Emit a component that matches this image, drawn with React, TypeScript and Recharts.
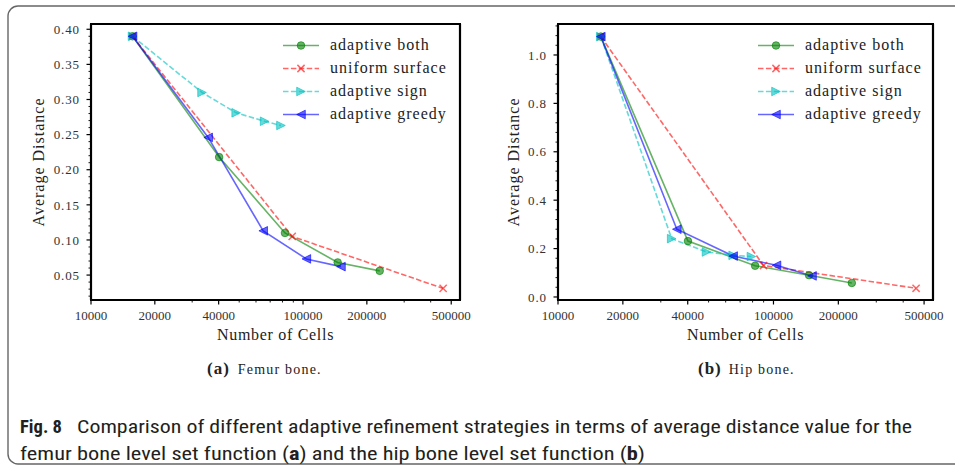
import React from "react";
import { LineChart, Line, XAxis, YAxis } from "recharts";

const seriesNames = ["adaptive both", "uniform surface", "adaptive sign", "adaptive greedy"];

// (a) femur bone
const femurBothCells = [15700, 40200, 82200, 145700, 230000];
const femurBothDist = [0.39, 0.218, 0.11, 0.068, 0.056];
const femurUniformCells = [15700, 88900, 458000];
const femurUniformDist = [0.39, 0.105, 0.031];
const femurSignCells = [15700, 33400, 48400, 65900, 78700];
const femurSignDist = [0.39, 0.31, 0.281, 0.269, 0.263];
const femurGreedyCells = [15700, 35700, 64900, 103700, 151000];
const femurGreedyDist = [0.39, 0.246, 0.113, 0.073, 0.062];

// (b) hip bone
const hipBothCells = [15800, 40100, 82200, 146300, 231000];
const hipBothDist = [1.076, 0.231, 0.129, 0.09, 0.058];
const hipUniformCells = [15800, 89900, 459000];
const hipUniformDist = [1.076, 0.13, 0.036];
const hipSignCells = [15800, 33700, 48900, 65000, 79000];
const hipSignDist = [1.076, 0.241, 0.186, 0.172, 0.167];
const hipGreedyCells = [15800, 35600, 65000, 103300, 151000];
const hipGreedyDist = [1.076, 0.28, 0.169, 0.131, 0.087];

const xMajorTicks = [10000, 20000, 40000, 100000, 200000, 500000];
const xMinorTicks = [30000, 50000, 60000, 70000, 80000, 90000, 300000, 400000];
const femurMajorTicks = [0.05, 0.1, 0.15, 0.2, 0.25, 0.3, 0.35, 0.4];
const femurMinorTicks = [
  0.02, 0.03, 0.04, 0.06, 0.07, 0.08, 0.09, 0.11, 0.12, 0.13, 0.14, 0.16, 0.17, 0.18, 0.19,
  0.21, 0.22, 0.23, 0.24, 0.26, 0.27, 0.28, 0.29, 0.31, 0.32, 0.33, 0.34, 0.36, 0.37, 0.38, 0.39,
];
const hipMajorTicks = [0, 0.2, 0.4, 0.6, 0.8, 1.0];
const hipMinorTicks = [0.04, 0.08, 0.12, 0.16, 0.24, 0.28, 0.32, 0.36, 0.44, 0.48, 0.52, 0.56, 0.64, 0.68, 0.72, 0.76, 0.84, 0.88, 0.92, 0.96, 1.04, 1.08, 1.12];

const xDomain = [10000, 550000];
const femurDomain = [0.0145, 0.4075];
const hipDomain = [-0.0125, 1.128];

const looks = [
  { color: "#008000", dash: undefined, marker: "circle" },
  { color: "#ff0000", dash: "5.5 2.4", marker: "x" },
  { color: "#00bfbf", dash: "5.5 2.4", marker: "triRight" },
  { color: "#0000ff", dash: undefined, marker: "triLeft" },
];

const serif = '"Liberation Serif", serif';
const condensed = '"Roboto Condensed", "Liberation Sans", sans-serif';
const frameLine = { stroke: "#000", strokeWidth: 2.2 };

function Marker({ kind, cx, cy, color }: { kind: string; cx: number; cy: number; color: string }) {
  const r = 4.3;
  const common = { fill: color, fillOpacity: 0.6, stroke: color, strokeOpacity: 0.6, strokeWidth: 1 };
  if (kind === "circle") return <circle cx={cx} cy={cy} r={3.8} {...common} />;
  if (kind === "x")
    return (
      <path
        d={`M${cx - 3.6},${cy - 3.6}L${cx + 3.6},${cy + 3.6}M${cx - 3.6},${cy + 3.6}L${cx + 3.6},${cy - 3.6}`}
        stroke={color}
        strokeOpacity={0.6}
        strokeWidth={1.5}
      />
    );
  if (kind === "triRight")
    return <polygon points={`${cx + r},${cy} ${cx - r},${cy - r} ${cx - r},${cy + r}`} {...common} />;
  return <polygon points={`${cx - r},${cy} ${cx + r},${cy - r} ${cx + r},${cy + r}`} {...common} />;
}

const XTick = (props: any) => {
  const { x, y, payload } = props;
  const major = xMajorTicks.includes(payload.value);
  return (
    <g>
      <line x1={x} x2={x} y1={y} y2={y + (major ? 4.5 : 2.5)} stroke="#000" strokeWidth={major ? 1.2 : 0.9} />
      {major && (
        <text x={x} y={y + 19.5} textAnchor="middle" style={{ fontFamily: serif }} fontSize={13} fill="#333">
          {payload.value}
        </text>
      )}
    </g>
  );
};

const makeYTick = (majors: number[], digits: number) => (props: any) => {
  const { x, y, payload } = props;
  const major = majors.some((m) => Math.abs(m - payload.value) < 1e-9);
  return (
    <g>
      <line x1={x} x2={x - (major ? 4.5 : 2.5)} y1={y} y2={y} stroke="#000" strokeWidth={major ? 1.2 : 0.9} />
      {major && (
        <text x={x - 11} y={y} dy="0.36em" textAnchor="end" style={{ fontFamily: serif, letterSpacing: 0.9 }} fontSize={13} fill="#333">
          {payload.value.toFixed(digits)}
        </text>
      )}
    </g>
  );
};

const FemurYTick = makeYTick(femurMajorTicks, 2);
const HipYTick = makeYTick(hipMajorTicks, 1);

type Panel = {
  cells: number[][];
  dists: number[][];
  yDomain: number[];
  yTicks: number[];
  YTick: (p: any) => React.ReactElement;
  left: number;
  width: number;
  margin: { top: number; right: number; bottom: number; left: number };
  labelOffset: number;
};

const chartHeight = 345;
const xAxisHeight = 44;
const yAxisWidth = 60;

function DistanceChart({ p }: { p: Panel }) {
  return (
    <div style={{ position: "absolute", left: p.left, top: 0, width: p.width, height: chartHeight }}>
      <LineChart width={p.width} height={chartHeight} margin={p.margin}>
        <XAxis
          dataKey="cells"
          type="number"
          scale="log"
          domain={xDomain}
          allowDataOverflow
          ticks={[...xMajorTicks, ...xMinorTicks].sort((a, b) => a - b)}
          interval={0}
          tick={<XTick />}
          tickLine={false}
          axisLine={frameLine}
          tickSize={0}
          tickMargin={0}
          height={xAxisHeight}
          label={{
            value: "Number of Cells",
            position: "insideBottom",
            offset: 4,
            style: { fontFamily: serif, fontSize: 16, letterSpacing: 0.7, fill: "#222" },
          }}
        />
        <XAxis
          xAxisId="top"
          orientation="top"
          dataKey="cells"
          type="number"
          scale="log"
          domain={xDomain}
          allowDataOverflow
          tick={false}
          tickLine={false}
          axisLine={frameLine}
          height={1}
        />
        <YAxis
          type="number"
          domain={p.yDomain}
          allowDataOverflow
          ticks={p.yTicks}
          interval={0}
          tick={<p.YTick />}
          tickLine={false}
          axisLine={frameLine}
          tickSize={0}
          tickMargin={0}
          width={yAxisWidth}
          label={{
            value: "Average Distance",
            angle: -90,
            position: "insideLeft",
            offset: p.labelOffset,
            style: { textAnchor: "middle", fontFamily: serif, fontSize: 16, letterSpacing: 1, fill: "#222" },
          }}
        />
        <YAxis
          yAxisId="right"
          orientation="right"
          type="number"
          domain={p.yDomain}
          allowDataOverflow
          tick={false}
          tickLine={false}
          axisLine={frameLine}
          width={1}
        />
        {seriesNames.map((name, i) => (
          <Line
            key={name}
            name={name}
            data={p.cells[i].map((c, j) => ({ cells: c, dist: p.dists[i][j] }))}
            dataKey="dist"
            type="linear"
            stroke={looks[i].color}
            strokeOpacity={0.6}
            strokeWidth={1.6}
            strokeDasharray={looks[i].dash}
            isAnimationActive={false}
            dot={(d: any) => (
              <Marker key={`${name}-${d.index}`} kind={looks[i].marker} cx={d.cx} cy={d.cy} color={looks[i].color} />
            )}
            activeDot={false}
          />
        ))}
      </LineChart>
    </div>
  );
}

function LegendBox({ left }: { left: number }) {
  return (
    <div style={{ position: "absolute", left, top: 33.5 }}>
      {seriesNames.map((name, i) => (
        <div key={name} style={{ display: "flex", alignItems: "center", height: 23 }}>
          <svg width={36} height={23}>
            <line
              x1={0}
              x2={36}
              y1={11.5}
              y2={11.5}
              stroke={looks[i].color}
              strokeOpacity={0.6}
              strokeWidth={1.6}
              strokeDasharray={looks[i].dash}
            />
            <Marker kind={looks[i].marker} cx={18} cy={11.5} color={looks[i].color} />
          </svg>
          <span style={{ marginLeft: 11, fontFamily: serif, fontSize: 16, letterSpacing: 1, color: "#222", whiteSpace: "nowrap" }}>
            {name}
          </span>
        </div>
      ))}
    </div>
  );
}

const femurPanel: Panel = {
  cells: [femurBothCells, femurUniformCells, femurSignCells, femurGreedyCells],
  dists: [femurBothDist, femurUniformDist, femurSignDist, femurGreedyDist],
  yDomain: femurDomain,
  yTicks: [...femurMajorTicks, ...femurMinorTicks].sort((a, b) => a - b),
  YTick: FemurYTick,
  left: 0,
  width: 480,
  margin: { top: 23, right: 19, bottom: 1, left: 31 },
  labelOffset: 7,
};

const hipPanel: Panel = {
  cells: [hipBothCells, hipUniformCells, hipSignCells, hipGreedyCells],
  dists: [hipBothDist, hipUniformDist, hipSignDist, hipGreedyDist],
  yDomain: hipDomain,
  yTicks: [...hipMajorTicks, ...hipMinorTicks].sort((a, b) => a - b),
  YTick: HipYTick,
  left: 480,
  width: 475,
  margin: { top: 23, right: 21, bottom: 1, left: 18 },
  labelOffset: 15,
};

const frames = [femurPanel, hipPanel].map((p) => ({
  x: p.left + p.margin.left + yAxisWidth,
  y: p.margin.top + 1,
  w: p.width - p.margin.left - yAxisWidth - p.margin.right - 1,
  h: chartHeight - p.margin.top - 1 - p.margin.bottom - xAxisHeight,
}));

// four solid bars per panel, laid on top of everything else
function FrameBars() {
  const t = 2;
  const bar = (key: string, left: number, top: number, width: number, height: number) => (
    <div key={key} style={{ position: "absolute", left, top, width, height, background: "#000", zIndex: 10 }} />
  );
  return (
    <>
      {frames.flatMap((f, i) => [
        bar(`t${i}`, f.x - 1, f.y - 1, f.w + t, t),
        bar(`b${i}`, f.x - 1, f.y + f.h - 1, f.w + t, t),
        bar(`l${i}`, f.x - 1, f.y - 1, t, f.h + t),
        bar(`r${i}`, f.x + f.w - 1, f.y - 1, t, f.h + t),
      ])}
    </>
  );
}

export default function App() {
  return (
    <div style={{ position: "absolute", left: 0, top: 0, width: 955, height: 469, background: "#fff", overflow: "hidden" }}>
      <svg width={955} height={469} style={{ position: "absolute", left: 0, top: 0 }}>
        <rect x={8} y={6} width={970} height={458} rx={10} fill="none" stroke="#666" strokeWidth={1.4} />
        <text x={207} y={374} style={{ fontFamily: serif }} fill="#222">
          <tspan fontWeight="bold" fontSize={17} letterSpacing={1}>(a)</tspan>
          <tspan dx={8} fontSize={14} letterSpacing={1.2}>Femur bone.</tspan>
        </text>
        <text x={698} y={374} style={{ fontFamily: serif }} fill="#222">
          <tspan fontWeight="bold" fontSize={17} letterSpacing={1}>(b)</tspan>
          <tspan dx={7} fontSize={14} letterSpacing={1.2}>Hip bone.</tspan>
        </text>
        <text x={20} y={433} style={{ fontFamily: condensed }} fontSize={19} fontWeight="bold" fill="#231f20" textLength={42} lengthAdjust="spacingAndGlyphs">
          Fig. 8
        </text>
        <text x={77} y={433} style={{ fontFamily: condensed }} fontSize={19} fill="#231f20" textLength={835} lengthAdjust="spacingAndGlyphs">
          Comparison of different adaptive refinement strategies in terms of average distance value for the
        </text>
        <text x={20} y={460} style={{ fontFamily: condensed }} fontSize={19} fill="#231f20" textLength={625} lengthAdjust="spacingAndGlyphs">
          femur bone level set function (<tspan fontWeight="bold">a</tspan>) and the hip bone level set function (<tspan fontWeight="bold">b</tspan>)
        </text>
      </svg>
      <DistanceChart p={femurPanel} />
      <DistanceChart p={hipPanel} />
      <LegendBox left={283} />
      <LegendBox left={758} />
      <FrameBars />
    </div>
  );
}
